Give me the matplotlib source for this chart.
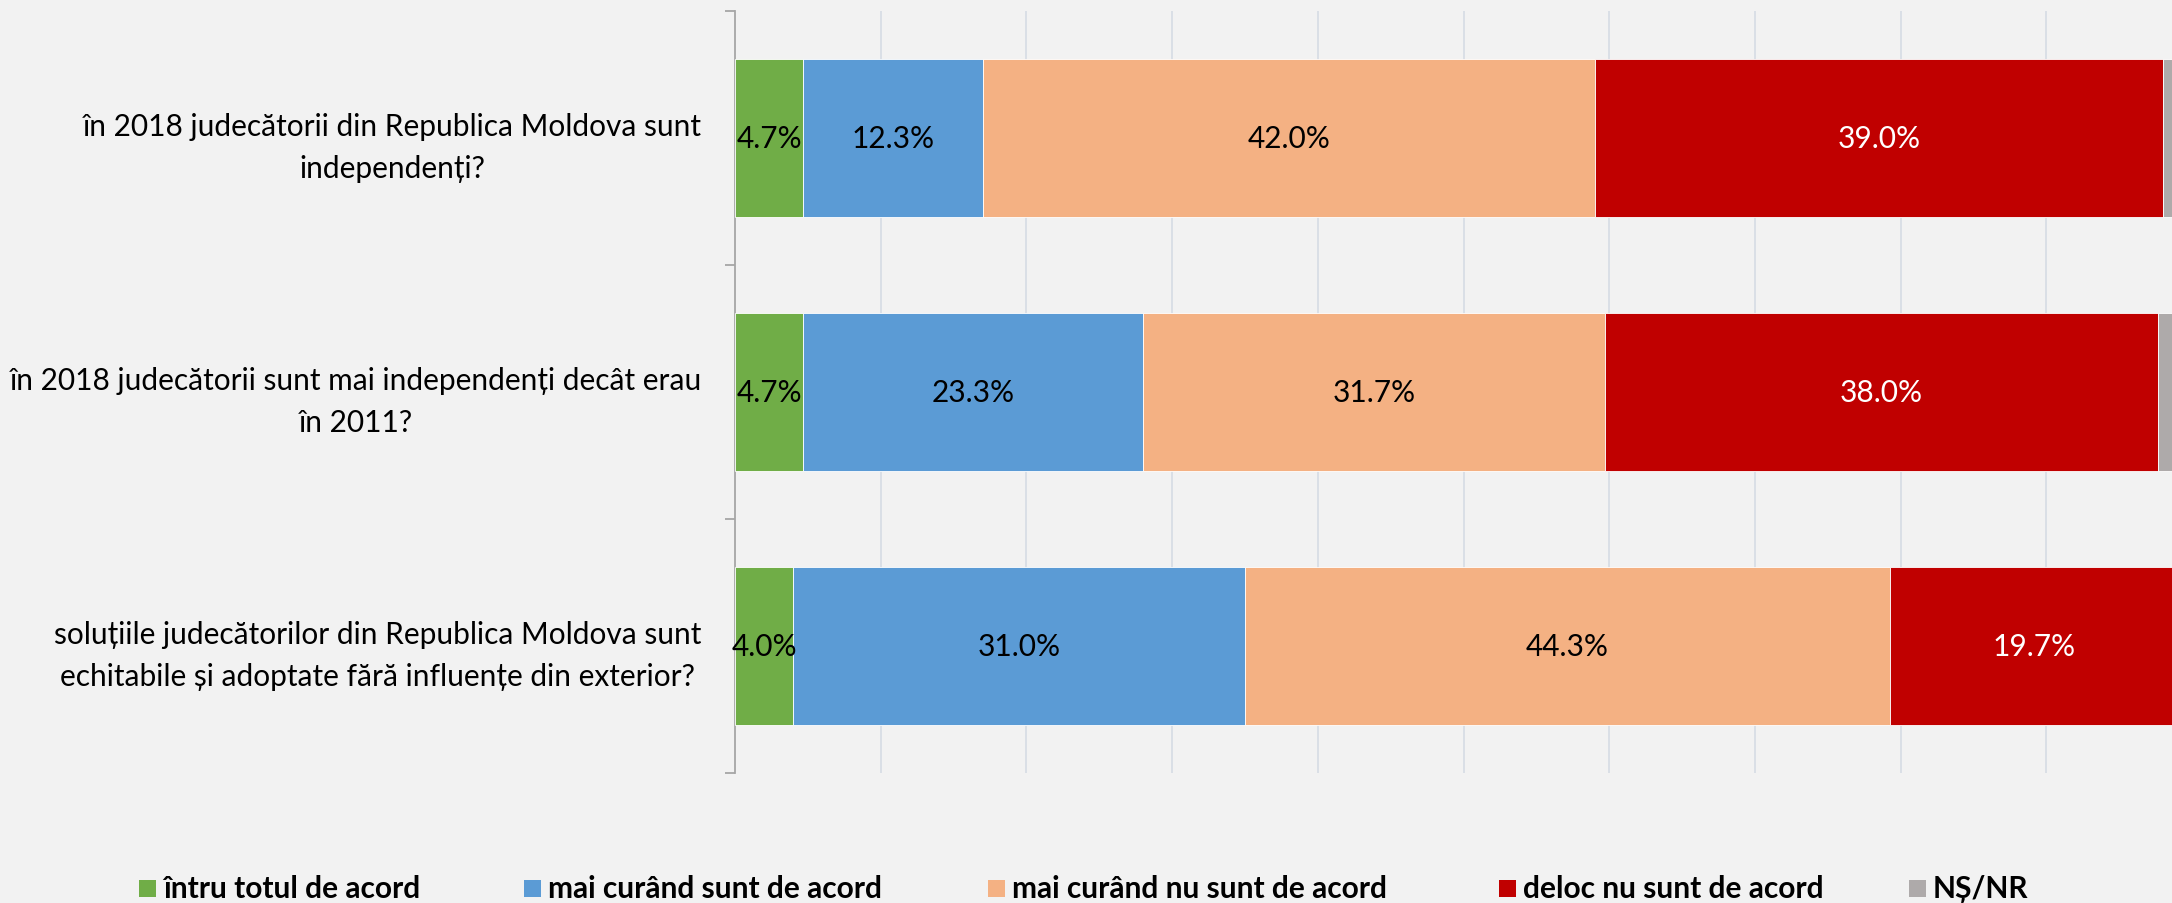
import matplotlib
matplotlib.use('Agg')
import matplotlib.pyplot as plt
from matplotlib.patches import Rectangle
import numpy as np

# data
categories = [
    'în 2018 judecătorii din Republica Moldova sunt\nindependenți?',
    'în 2018 judecătorii sunt mai independenți decât erau\nîn 2011?',
    'soluțiile judecătorilor din Republica Moldova sunt\nechitabile și adoptate fără influențe din exterior?',
]
series_names = ['întru totul de acord', 'mai curând sunt de acord',
                'mai curând nu sunt de acord', 'deloc nu sunt de acord', 'NȘ/NR']
total_acord = [4.7, 4.7, 4.0]
mai_curand_acord = [12.3, 23.3, 31.0]
mai_curand_nu = [42.0, 31.7, 44.3]
deloc_nu = [39.0, 38.0, 19.7]
ns_nr = [2.0, 2.3, 1.0]

colors = ['#70AD47', '#5B9BD5', '#F4B183', '#C00000', '#AEAAAA']
label_colors = ['black', 'black', 'black', 'white', None]
bg = '#F2F2F2'

plt.rcParams['font.family'] = ['Lato', 'DejaVu Sans']

W, H = 2172, 904
fig = plt.figure(figsize=(W / 100, H / 100), dpi=100, facecolor=bg)
# the value axis runs past the right edge of the picture (as in the original)
ax_left, ax_right, ax_top, ax_bottom = 735, 2192, 12, 774
ax = fig.add_axes([ax_left / W, 1 - ax_bottom / H,
                   (ax_right - ax_left) / W, (ax_bottom - ax_top) / H])
ax.set_facecolor(bg)

series = [total_acord, mai_curand_acord, mai_curand_nu, deloc_nu, ns_nr]
y = np.arange(len(categories))
left = np.zeros(len(categories))
for vals, name, col, lc in zip(series, series_names, colors, label_colors):
    vals = np.array(vals)
    bars = ax.barh(y, vals, left=left, height=0.625, color=col,
                   edgecolor='#FFFFFF', linewidth=0.6, zorder=3)
    if lc is not None:
        for b, v in zip(bars, vals):
            ax.text(b.get_x() + b.get_width() / 2, b.get_y() + b.get_height() / 2,
                    f'{v:.1f}%', ha='center', va='center', color=lc,
                    fontsize=21.5, zorder=4)
    left += vals

ax.set_xlim(0, 100)
ax.set_ylim(len(categories) - 0.5, -0.5)
ax.set_xticks(np.arange(10, 100, 10))
ax.tick_params(axis='x', length=0, labelbottom=False)
ax.grid(axis='x', color='#D6DCE4', linewidth=1.2, zorder=0)

ax.set_yticks(y)
ax.set_yticklabels(categories, fontsize=21.5)
for t in ax.get_yticklabels():
    t.set_multialignment('center')
    t.set_linespacing(1.6)
ax.set_yticks(np.arange(-0.5, len(categories), 1), minor=True)
ax.tick_params(axis='y', which='major', length=0, pad=24)
ax.tick_params(axis='y', which='minor', length=7, width=1.3, color='#A6A6A6')

for s in ['top', 'right', 'bottom']:
    ax.spines[s].set_visible(False)
ax.spines['left'].set_color('#A6A6A6')
ax.spines['left'].set_linewidth(1.3)

# legend drawn by hand along the bottom edge
legend_x = [139, 524, 988, 1499, 1909]
sq = 17
legend_y = 889
for x0, name, col in zip(legend_x, series_names, colors):
    fig.patches.append(Rectangle((x0 / W, 1 - (legend_y + sq / 2) / H), sq / W, sq / H,
                                 transform=fig.transFigure, facecolor=col,
                                 edgecolor='none'))
    fig.text((x0 + sq + 7) / W, 1 - legend_y / H, name, ha='left', va='center',
             fontsize=21.5, fontweight='bold', color='black')

fig.savefig('out.png', dpi=100, facecolor=bg)
